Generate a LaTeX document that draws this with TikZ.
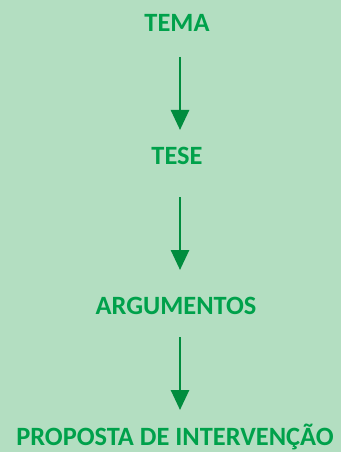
\documentclass[tikz,border=0pt]{standalone}
\usepackage{fontspec}
\setmainfont{Carlito}
\usetikzlibrary{arrows.meta}
\definecolor{fundo}{RGB}{179,222,193}
\definecolor{verdetexto}{RGB}{0,161,75}
\definecolor{verdeseta}{RGB}{0,140,62}

\begin{document}
\begin{tikzpicture}[x=0.75pt,y=-0.75pt,
    etapa/.style={inner sep=0pt,anchor=base,font=\fontsize{19.8}{22}\selectfont\bfseries,text=verdetexto},
    seta/.style={verdeseta,line width=2pt,-{Triangle[width=13.5pt,length=15pt]}}]
  \fill[fundo] (0,0) rectangle (341,452);
  \useasboundingbox (0,0) rectangle (341,452);
  % etapas
  \node[etapa] (tema) at (177,32) {TEMA};
  \node[etapa] (tese) at (177,165) {TESE};
  \node[etapa] (arg) at (176,314) {ARGUMENTOS};
  \node[etapa] (prop) at (175,445) {PROPOSTA DE INTERVENÇÃO};
  \coordinate (eixo) at (180,0);
  % setas
  \draw[seta,shorten <=18.75pt,shorten >=26.25pt] (tema.base -| eixo) -- (tese.base -| eixo);
  \draw[seta,shorten <=24pt,shorten >=33pt] (tese.base -| eixo) -- (arg.base -| eixo);
  \draw[seta,shorten <=17.25pt,shorten >=26.25pt] (arg.base -| eixo) -- (prop.base -| eixo);
\end{tikzpicture}
\end{document}
